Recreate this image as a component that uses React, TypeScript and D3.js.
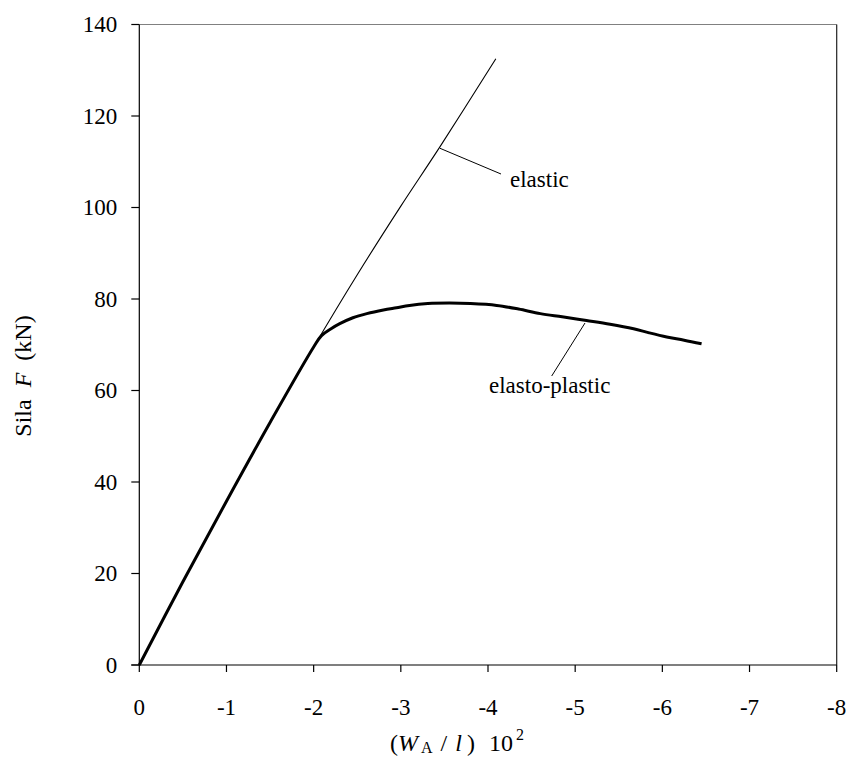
import React from "react";
import * as d3 from "d3";

const xTicks = [0, -1, -2, -3, -4, -5, -6, -7, -8];
const yTicks = [0, 20, 40, 60, 80, 100, 120, 140];

const elasticX = [0, -0.5, -1, -1.5, -2, -2.5, -3, -3.45, -4.09];
const elasticY = [0, 18.2, 35.8, 53, 69.5, 85.3, 100.3, 113.3, 132.5];

const plasticX = [0, -0.5, -1, -1.5, -2, -2.09, -2.2, -2.3, -2.45, -2.61, -2.8, -2.95, -3.1, -3.31, -3.56, -3.8, -4.1, -4.35, -4.6, -4.85, -5.13, -5.4, -5.67, -5.85, -6.05, -6.25, -6.45];
const plasticY = [0, 18.2, 35.8, 53, 69.5, 72, 73.5, 74.6, 75.9, 76.8, 77.6, 78.1, 78.6, 79.0, 79.1, 79.0, 78.6, 77.8, 76.8, 76.1, 75.3, 74.5, 73.5, 72.6, 71.7, 71.0, 70.2];

const FONT = "'Liberation Serif', 'Times New Roman', serif";
const FS = 23;

export default function App() {
  const x = d3.scaleLinear().domain([0, -8]).range([139.3, 836.7]);
  const y = d3.scaleLinear().domain([0, 140]).range([665, 24.5]);

  const line = d3
    .line<[number, number]>()
    .x((d) => x(d[0]))
    .y((d) => y(d[1]))
    .curve(d3.curveCatmullRom.alpha(0.5));

  const elastic = elasticX.map((v, i) => [v, elasticY[i]] as [number, number]);
  const plastic = plasticX.map((v, i) => [v, plasticY[i]] as [number, number]);

  const x0 = x(0);
  const x1 = x(-8);
  const y0 = y(0);
  const y1 = y(140);

  return (
    <svg
      width={852}
      height={778}
      style={{ position: "absolute", left: 0, top: 0, background: "#fff" }}
      fontFamily={FONT}
    >
      <rect x={0} y={0} width={852} height={778} fill="#fff" />
      {/* frame */}
      <line x1={x0} y1={y1} x2={x1} y2={y1} stroke="#808080" strokeWidth={1.2} />
      <line x1={x1} y1={y1} x2={x1} y2={y0} stroke="#222" strokeWidth={1.2} />
      <line x1={x0} y1={y1} x2={x0} y2={y0} stroke="#000" strokeWidth={1.2} />
      <line x1={x0 - 8} y1={y0} x2={x1} y2={y0} stroke="#000" strokeWidth={1.2} />

      {yTicks.map((t) => (
        <g key={"y" + t}>
          <line x1={x0 - 8} x2={x0} y1={y(t)} y2={y(t)} stroke="#000" strokeWidth={1.2} />
          <text x={x0 - 22} y={y(t) + FS * 0.33} textAnchor="end" fontSize={FS}>
            {t}
          </text>
        </g>
      ))}
      {xTicks.map((t) => (
        <g key={"x" + t}>
          <line x1={x(t)} x2={x(t)} y1={y0} y2={y0 + 7} stroke="#000" strokeWidth={1.2} />
          <text x={x(t)} y={715} textAnchor="middle" fontSize={FS}>
            {t === 0 ? "0" : "-" + Math.abs(t)}
          </text>
        </g>
      ))}

      <path d={line(elastic) || ""} fill="none" stroke="#000" strokeWidth={1.1} />
      <path d={line(plastic) || ""} fill="none" stroke="#000" strokeWidth={3} strokeLinejoin="round" />

      {/* annotations */}
      <line x1={440} y1={148.3} x2={501} y2={174} stroke="#000" strokeWidth={1} />
      <text x={510} y={187} fontSize={FS}>elastic</text>
      <line x1={585} y1={323} x2={551.7} y2={376} stroke="#000" strokeWidth={1} />
      <text x={489} y={393} fontSize={FS}>elasto-plastic</text>

      {/* axis titles */}
      <text x={390} y={751} fontSize={24}>
        <tspan>(</tspan>
        <tspan fontStyle="italic">W</tspan>
        <tspan fontSize={16} dx={3} dy={2}>A</tspan>
        <tspan dx={8} dy={-2}>/</tspan>
        <tspan fontStyle="italic" dx={8}>l</tspan>
        <tspan dx={5}>)</tspan>
        <tspan dx={14}>10</tspan>
        <tspan fontSize={16} dx={3} dy={-11}>2</tspan>
      </text>
      <text
        transform={`translate(31, 376) rotate(-90)`}
        textAnchor="middle"
        fontSize={24}
      >
        Sila<tspan fontStyle="italic" dx={12}>F</tspan><tspan dx={12}>(kN)</tspan>
      </text>
    </svg>
  );
}
